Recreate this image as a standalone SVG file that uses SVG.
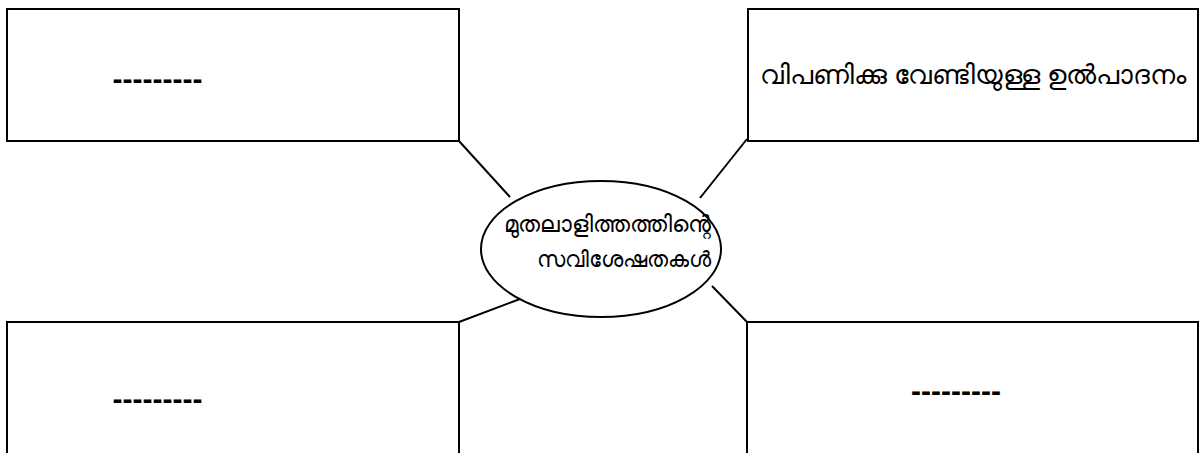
<svg xmlns="http://www.w3.org/2000/svg" width="1204" height="453" viewBox="0 0 1204 453">
<style>
.box{fill:#fff;stroke:#000;stroke-width:2}
.con{stroke:#000;stroke-width:2;fill:none}
.dash{font-family:"Liberation Sans",Arial,sans-serif;font-size:30px;font-weight:bold;fill:#000}
.ml{font-family:"Noto Sans","DejaVu Sans","Liberation Sans",sans-serif;fill:#000}
</style>
<rect width="1204" height="453" fill="#fff"/>
<g id="connectors">
<line class="con" x1="459" y1="141" x2="510" y2="197"/>
<line class="con" x1="747" y1="139" x2="700" y2="198"/>
<line class="con" x1="459" y1="322" x2="520" y2="299"/>
<line class="con" x1="747" y1="322" x2="712" y2="286"/>
</g>
<g id="node-center">
<ellipse cx="601" cy="249" rx="120" ry="68" fill="#fff" stroke="#000" stroke-width="2"/>
<text class="ml" x="711" y="232" font-size="23" text-anchor="end">മുതലാളിത്തത്തിന്റെ</text>
<text class="ml" x="711" y="267" font-size="22" text-anchor="end">സവിശേഷതകൾ</text>
</g>
<g id="node-tl">
<rect class="box" x="7" y="9" width="452" height="132"/>
<text class="dash" x="157.5" y="89" text-anchor="middle">---------</text>
</g>
<g id="node-tr">
<rect class="box" x="748" y="9" width="450" height="132"/>
<text class="ml" x="973" y="84" font-size="26.5" text-anchor="middle">വിപണിക്കു വേണ്ടിയുള്ള ഉൽപാദനം</text>
</g>
<g id="node-bl">
<rect class="box" x="7" y="322" width="452" height="140"/>
<text class="dash" x="157.5" y="409" text-anchor="middle">---------</text>
</g>
<g id="node-br">
<rect class="box" x="747" y="322" width="451" height="140"/>
<text class="dash" x="956" y="401" text-anchor="middle">---------</text>
</g>
</svg>
